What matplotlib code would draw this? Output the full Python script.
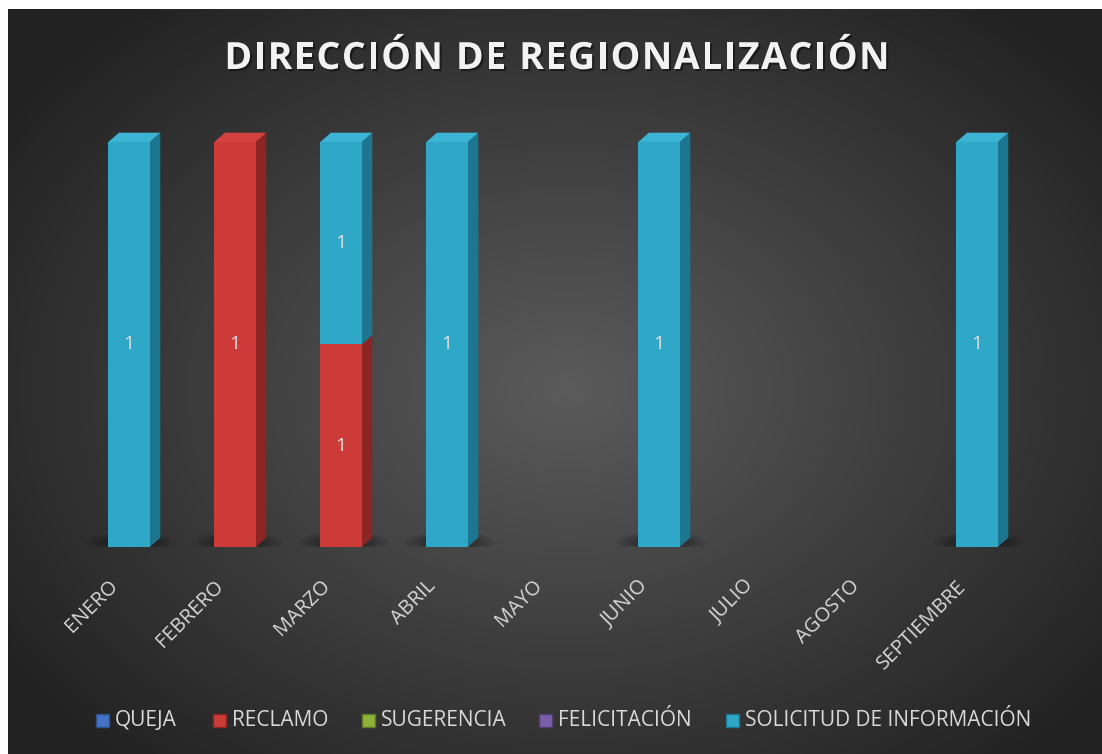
import numpy as np
import matplotlib.pyplot as plt
from matplotlib.patches import Polygon, Rectangle, Ellipse
import matplotlib.patheffects as pe

plt.rcParams['font.family'] = ['Open Sans', 'DejaVu Sans']

meses = ['ENERO', 'FEBRERO', 'MARZO', 'ABRIL', 'MAYO', 'JUNIO', 'JULIO', 'AGOSTO', 'SEPTIEMBRE']
queja = [0, 0, 0, 0, 0, 0, 0, 0, 0]
reclamo = [0, 1, 1, 0, 0, 0, 0, 0, 0]
sugerencia = [0, 0, 0, 0, 0, 0, 0, 0, 0]
felicitacion = [0, 0, 0, 0, 0, 0, 0, 0, 0]
solicitud = [1, 0, 1, 1, 0, 1, 0, 0, 1]

series = ['QUEJA', 'RECLAMO', 'SUGERENCIA', 'FELICITACIÓN', 'SOLICITUD DE INFORMACIÓN']
valores = [queja, reclamo, sugerencia, felicitacion, solicitud]
titulo = 'DIRECCIÓN DE REGIONALIZACIÓN'

# front, side, top colours
colores = {
    'QUEJA': ('#4472c4', '#2e4f8a', '#5a86d0'),
    'RECLAMO': ('#cc3b38', '#8c2624', '#d4423f'),
    'SUGERENCIA': ('#8db33a', '#5f7a27', '#9cc246'),
    'FELICITACIÓN': ('#7a5ea8', '#523f72', '#8a6eb8'),
    'SOLICITUD DE INFORMACIÓN': ('#2fa8c8', '#1d7690', '#3bb5d3'),
}

W, H = 1102, 754
fig = plt.figure(figsize=(W / 100, H / 100), dpi=100, facecolor='white')

# dark radial background
bg = fig.add_axes([8 / W, 0, 1 - 8 / W, (H - 9) / H])
yy, xx = np.mgrid[0:745, 0:1094]
r = np.sqrt(((xx - 560) / 680.0) ** 2 + ((yy - 380) / 500.0) ** 2)
r = np.clip(r, 0, 1)
c0, c1 = 0x5b / 255, 0x22 / 255
img = c0 + (c1 - c0) * r
bg.imshow(np.dstack([img, img, img]), aspect='auto', interpolation='bilinear')
bg.set_axis_off()

# main axes: category step ~106 px, value 1.0 -> 405 px
x0_px, step = 129, 106
xmin, xmax = -0.75, 8.75
left = x0_px + xmin * step
ybot, unit = 547, 405
ymax = 1.1
ax = fig.add_axes([left / W, (H - ybot) / H, (xmax - xmin) * step / W, ymax * unit / H])
ax.set_xlim(xmin, xmax)
ax.set_ylim(0, ymax)
ax.set_axis_off()

x = np.arange(len(meses))
w = 0.39
dx, dy = 0.10, 0.023

totales = np.sum(np.array(valores, dtype=float), axis=0)

# soft floor shadow
for i in x:
    if totales[i] == 0:
        continue
    for k in range(6):
        ax.add_patch(Ellipse((i + 0.02, 0.012), 0.85 - 0.1 * k, 0.05 - 0.006 * k,
                             facecolor='black', alpha=0.07, edgecolor='none', zorder=1))

base = np.zeros(len(meses))
tope = np.where(totales > 0, 1.0, 0.0)
for nombre, vals in zip(series, valores):
    vals = np.array(vals, dtype=float)
    frac = np.where(totales > 0, vals / np.where(totales == 0, 1, totales), 0)
    cf, cs, ct = colores[nombre]
    ax.bar(x, frac, w, bottom=base, color=cf, edgecolor='none', zorder=3)
    for i in x:
        if frac[i] == 0:
            continue
        b, t = base[i], base[i] + frac[i]
        xr = i + w / 2
        ax.add_patch(Polygon([(xr, b), (xr + dx, b + dy), (xr + dx, t + dy), (xr, t)],
                             closed=True, facecolor=cs, edgecolor='none', zorder=2.5))
        if np.isclose(t, tope[i]):
            ax.add_patch(Polygon([(i - w / 2, t), (xr, t), (xr + dx, t + dy), (i - w / 2 + dx, t + dy)],
                                 closed=True, facecolor=ct, edgecolor='none', zorder=3))
        ax.text(i, b + frac[i] / 2, '%d' % vals[i], ha='center', va='center',
                color='#e0e0e0', fontsize=14, zorder=4)
    base = base + frac

# category labels
for i, m in enumerate(meses):
    ax.text(i - 0.2, -29 / unit, m, rotation=45, rotation_mode='anchor',
            ha='right', va='top', color='#d9d9d9', fontsize=14.5)

# title with letter spacing
renderer = fig.canvas.get_renderer()
estilo = dict(color='#f2f2f2', fontsize=27, fontweight='bold', va='center', ha='left',
              path_effects=[pe.withSimplePatchShadow(offset=(1.5, -1.5), shadow_rgbFace='black', alpha=0.45)])
letras = [fig.text(0, 1 - 59 / H, ch, **estilo) for ch in titulo]
anchos = [t.get_window_extent(renderer).width if ch != ' ' else 10.0 for t, ch in zip(letras, titulo)]
espacio = 1.5
total = sum(anchos) + espacio * (len(anchos) - 1)
pos = 557 - total / 2
for t, a in zip(letras, anchos):
    t.set_x(pos / W)
    pos += a + espacio

# legend
leg_x = [96, 213, 362, 539, 726]
leg_y = 720
for nombre, lx in zip(series, leg_x):
    cf, cs, ct = colores[nombre]
    fig.patches.append(Rectangle((lx / W, 1 - (leg_y + 7) / H), 13 / W, 13 / H, transform=fig.transFigure,
                                 facecolor=cf, edgecolor=cs, linewidth=1, figure=fig))
    fig.text((lx + 19) / W, 1 - leg_y / H, nombre, ha='left', va='center',
             color='#d9d9d9', fontsize=15)

fig.savefig('out.png', dpi=100, facecolor=fig.get_facecolor())
